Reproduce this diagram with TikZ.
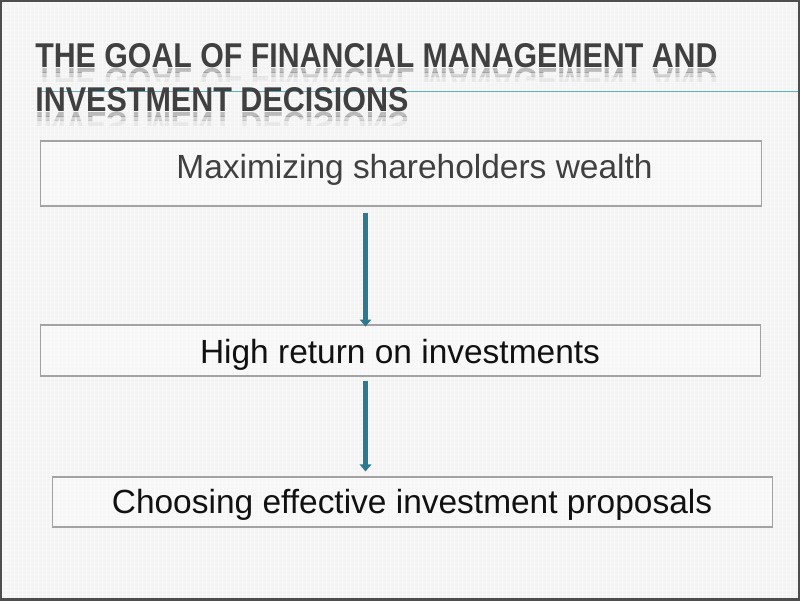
\documentclass[tikz,border=0pt]{standalone}
\usepackage{fontspec}
\setmainfont{Liberation Sans}
\usetikzlibrary{arrows.meta}
\definecolor{bg}{HTML}{F3F3F3}
\definecolor{gridc}{HTML}{F8F8F8}
\definecolor{framec}{HTML}{4D4D4D}
\definecolor{titlec}{HTML}{404040}
\definecolor{rulec}{HTML}{5AAFC4}
\definecolor{boxline}{HTML}{A3A3A3}
\definecolor{arrowc}{HTML}{2A7B91}
\definecolor{textgray}{HTML}{404040}
\definecolor{textdark}{HTML}{111111}
\newcommand\ttlA{\resizebox{17.05cm}{0.6cm}{\bfseries THE GOAL OF FINANCIAL MANAGEMENT AND}}
\newcommand\ttlB{\resizebox{9.325cm}{0.6cm}{\bfseries INVESTMENT DECISIONS}}
\tikzset{
  titletext/.style={anchor=base west, inner sep=0pt, text=titlec},
  reflection/.style={anchor=base west, inner sep=0pt, text=titlec},
  boxshape/.style={draw=boxline, line width=0.8pt, fill=white, fill opacity=0.3, draw opacity=1, minimum width=#1, inner sep=0pt},
  boxtext/.style={anchor=base, inner sep=0pt, font=\fontsize{23.8pt}{28pt}\selectfont},
  flowarrow/.style={draw=arrowc, line width=3.6pt, -{Triangle[length=5pt, width=8pt]}},
}
\begin{document}
\begin{tikzpicture}[x=0.025cm, y=-0.025cm]
\useasboundingbox (0,0) rectangle (800,600);
% background
\fill[bg] (0,0) rectangle (800,600);
\foreach \i in {2,6,...,798} \draw[gridc, line width=0.5pt] (\i,0) -- (\i,600);
\foreach \j in {2,6,...,598} \draw[gridc, line width=0.3pt] (0,\j) -- (800,\j);
% title rule
\coordinate (r1) at (40,91.5);
\coordinate (r2) at (800,91.5);
\draw[rulec, line width=0.9pt] (r1) -- (r2);
% title
\node[titletext] (t1) at (35,67) {\ttlA};
\node[titletext] (t2) at (35,111) {\ttlB};
% reflections
\begin{scope}
  \clip (0,68) rectangle (800,72);
  \node[reflection, opacity=0.32] (t1r) at (35,68) {\scalebox{1}[-1]{\ttlA}};
\end{scope}
\begin{scope}
  \clip (0,72) rectangle (800,76);
  \node[reflection, opacity=0.18] at (35,68) {\scalebox{1}[-1]{\ttlA}};
\end{scope}
\begin{scope}
  \clip (0,76) rectangle (800,81);
  \node[reflection, opacity=0.07] at (35,68) {\scalebox{1}[-1]{\ttlA}};
\end{scope}
\begin{scope}
  \clip (0,112) rectangle (800,116);
  \node[reflection, opacity=0.32] (t2r) at (35,112) {\scalebox{1}[-1]{\ttlB}};
\end{scope}
\begin{scope}
  \clip (0,116) rectangle (800,120);
  \node[reflection, opacity=0.18] at (35,112) {\scalebox{1}[-1]{\ttlB}};
\end{scope}
\begin{scope}
  \clip (0,120) rectangle (800,125);
  \node[reflection, opacity=0.07] at (35,112) {\scalebox{1}[-1]{\ttlB}};
\end{scope}
% boxes
\node[boxshape=18cm, minimum height=1.625cm] (b1) at (401,173.5) {};
\node[boxshape=17.975cm, minimum height=1.275cm] (b2) at (400.5,350.5) {};
\node[boxshape=17.975cm, minimum height=1.25cm] (b3) at (412.5,502) {};
% box texts
\node[boxtext, text=textgray] (l1) at (414.5,178) {Maximizing shareholders wealth};
\node[boxtext, text=textdark] (l2) at (400,363) {High return on investments};
\node[boxtext, text=textdark] (l3) at (412,513) {Choosing effective investment proposals};
% arrows
\coordinate (ax) at (365.5,0);
\draw[flowarrow, shorten <=4.5pt, shorten >=-1.5pt] (b1.south -| ax) -- (b2.north -| ax);
\draw[flowarrow, shorten <=3pt, shorten >=3.5pt] (b2.south -| ax) -- (b3.north -| ax);
% frame
\draw[framec, line width=1.6pt] (0.6,0.6) rectangle (799.4,599.4);
\end{tikzpicture}
\end{document}
